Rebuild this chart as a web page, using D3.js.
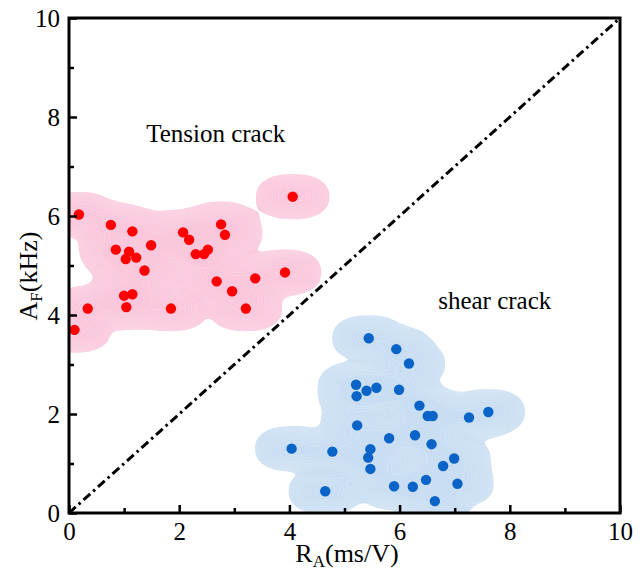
<!DOCTYPE html>
<html>
<head>
<meta charset="utf-8">
<script src="https://cdn.jsdelivr.net/npm/d3@7"></script>
<style>
  html, body { margin: 0; padding: 0; background: #fff; }
  svg { display: block; font-family: "Liberation Serif", "Times New Roman", serif; }
</style>
</head>
<body>
<svg id="chart" width="644" height="574"></svg>
<script>
// Tension cracks: [R_A (ms/V), A_F (kHz)]
const tensionPoints = [
  [0.18, 6.03], [0.76, 5.82], [1.15, 5.69], [0.85, 5.32], [1.09, 5.28],
  [1.03, 5.13], [1.22, 5.16], [1.49, 5.41], [1.37, 4.90], [2.07, 5.67],
  [2.18, 5.52], [2.76, 5.83], [2.83, 5.62], [2.30, 5.23], [2.45, 5.23],
  [2.52, 5.32], [3.92, 4.86], [3.38, 4.74], [2.68, 4.68], [2.96, 4.48],
  [3.21, 4.13], [1.00, 4.39], [1.15, 4.42], [1.04, 4.16], [1.85, 4.13],
  [0.34, 4.13], [0.10, 3.70], [4.06, 6.39]
];
// Shear cracks
const shearPoints = [
  [5.44, 3.53], [5.94, 3.31], [6.17, 3.02], [5.21, 2.59], [5.40, 2.47],
  [5.58, 2.53], [5.22, 2.36], [5.99, 2.49], [6.36, 2.17], [6.51, 1.96],
  [6.60, 1.96], [7.26, 1.93], [7.61, 2.04], [5.23, 1.77], [5.81, 1.51],
  [6.28, 1.57], [6.58, 1.39], [4.04, 1.30], [4.78, 1.24], [5.47, 1.29],
  [5.43, 1.12], [5.47, 0.89], [6.99, 1.10], [6.79, 0.95], [6.48, 0.67],
  [5.90, 0.54], [6.24, 0.53], [7.05, 0.59], [4.65, 0.44], [6.64, 0.24]
];
// Dividing line A_F = R_A
const divider = [[0, 0], [10, 10]];
const majorTicks = [0, 2, 4, 6, 8, 10];
const minorTicks = [1, 3, 5, 7, 9];
const annotations = [
  { text: "Tension crack", at: [1.40, 7.5] },
  { text: "shear crack", at: [6.70, 4.13] }
];

const svg = d3.select("#chart");
const margin = { left: 69, top: 18, right: 24, bottom: 61 };
const W = 644, H = 574;
const w = W - margin.left - margin.right;
const h = H - margin.top - margin.bottom;

const x = d3.scaleLinear().domain([0, 10]).range([0, w]);
const y = d3.scaleLinear().domain([0, 10]).range([h, 0]);

const g = svg.append("g").attr("transform", `translate(${margin.left},${margin.top})`);

svg.append("defs").append("clipPath").attr("id", "plotClip")
  .append("rect").attr("width", w).attr("height", h);

// Density clouds around each crack group (kernel wider horizontally)
const sx = 1.6;
const bw = 9;
function densityCloud(points, fill) {
  const dens = d3.contourDensity()
    .x(d => x(d[0]) / sx)
    .y(d => y(d[1]))
    .size([w / sx, h])
    .cellSize(2)
    .bandwidth(bw);
  const grid = dens.contours(points);
  const base = 9.9e-5;
  const levels = d3.range(0, 16).map(i => base * Math.pow(1.22, i));
  const layer = g.append("g").attr("clip-path", "url(#plotClip)")
    .append("g").attr("transform", `scale(${sx},1)`);
  const path = d3.geoPath();
  layer.append("path")
    .attr("d", path(grid(levels[0])))
    .attr("fill", fill)
    .attr("stroke", "none");
  levels.slice(1).forEach(t => {
    layer.append("path")
      .attr("d", path(grid(t)))
      .attr("fill", "none")
      .attr("stroke", "#ffffff")
      .attr("stroke-opacity", 0.3)
      .attr("stroke-width", 0.6)
      .attr("vector-effect", "non-scaling-stroke");
  });
}
densityCloud(tensionPoints, "#fac7dd");
densityCloud(shearPoints, "#c9def2");

// Dividing line
g.append("path")
  .attr("d", d3.line().x(d => x(d[0])).y(d => y(d[1]))(divider))
  .attr("fill", "none")
  .attr("stroke", "#000")
  .attr("stroke-width", 3)
  .attr("stroke-dasharray", "9,4,2.5,4");

// Points
g.append("g").selectAll("circle").data(tensionPoints).join("circle")
  .attr("cx", d => x(d[0])).attr("cy", d => y(d[1])).attr("r", 5.2)
  .attr("fill", "#ff0000");
g.append("g").selectAll("circle").data(shearPoints).join("circle")
  .attr("cx", d => x(d[0])).attr("cy", d => y(d[1])).attr("r", 5.2)
  .attr("fill", "#0a64c8");

// Axes with inward ticks
function styleAxis(sel) {
  sel.select(".domain").remove();
  sel.selectAll(".tick line").attr("stroke", "#000").attr("stroke-width", 2.5);
  sel.selectAll(".tick text").attr("font-size", 25).attr("font-family", "Liberation Serif, serif").attr("fill", "#000");
}
const xAxis = g.append("g").attr("transform", `translate(0,${h})`)
  .call(d3.axisBottom(x).tickValues(majorTicks).tickFormat(d3.format("d")).tickSizeInner(-8).tickSizeOuter(0).tickPadding(9));
styleAxis(xAxis);
const xMinor = g.append("g").attr("transform", `translate(0,${h})`)
  .call(d3.axisBottom(x).tickValues(minorTicks).tickFormat("").tickSizeInner(-5).tickSizeOuter(0));
styleAxis(xMinor);
const yAxis = g.append("g")
  .call(d3.axisLeft(y).tickValues(majorTicks).tickFormat(d3.format("d")).tickSizeInner(-8).tickSizeOuter(0).tickPadding(9));
styleAxis(yAxis);
const yMinor = g.append("g")
  .call(d3.axisLeft(y).tickValues(minorTicks).tickFormat("").tickSizeInner(-5).tickSizeOuter(0));
styleAxis(yMinor);

// Frame
g.append("rect").attr("width", w).attr("height", h)
  .attr("fill", "none").attr("stroke", "#000").attr("stroke-width", 3);

// Region labels
annotations.forEach(a => {
  g.append("text")
    .attr("x", x(a.at[0])).attr("y", y(a.at[1]))
    .attr("font-size", 25).attr("fill", "#000")
    .text(a.text);
});

// Axis titles
const xt = svg.append("text")
  .attr("x", 347).attr("y", 562)
  .attr("text-anchor", "middle").attr("font-size", 26);
xt.append("tspan").text("R");
xt.append("tspan").attr("font-size", 17).attr("dy", 5).text("A");
xt.append("tspan").attr("dy", -5).text("(ms/V)");

const yt = svg.append("text")
  .attr("transform", `translate(37,276) rotate(-90)`)
  .attr("text-anchor", "middle").attr("font-size", 26);
yt.append("tspan").text("A");
yt.append("tspan").attr("font-size", 17).attr("dy", 5).text("F");
yt.append("tspan").attr("dy", -5).text("(kHz)");
</script>
</body>
</html>
